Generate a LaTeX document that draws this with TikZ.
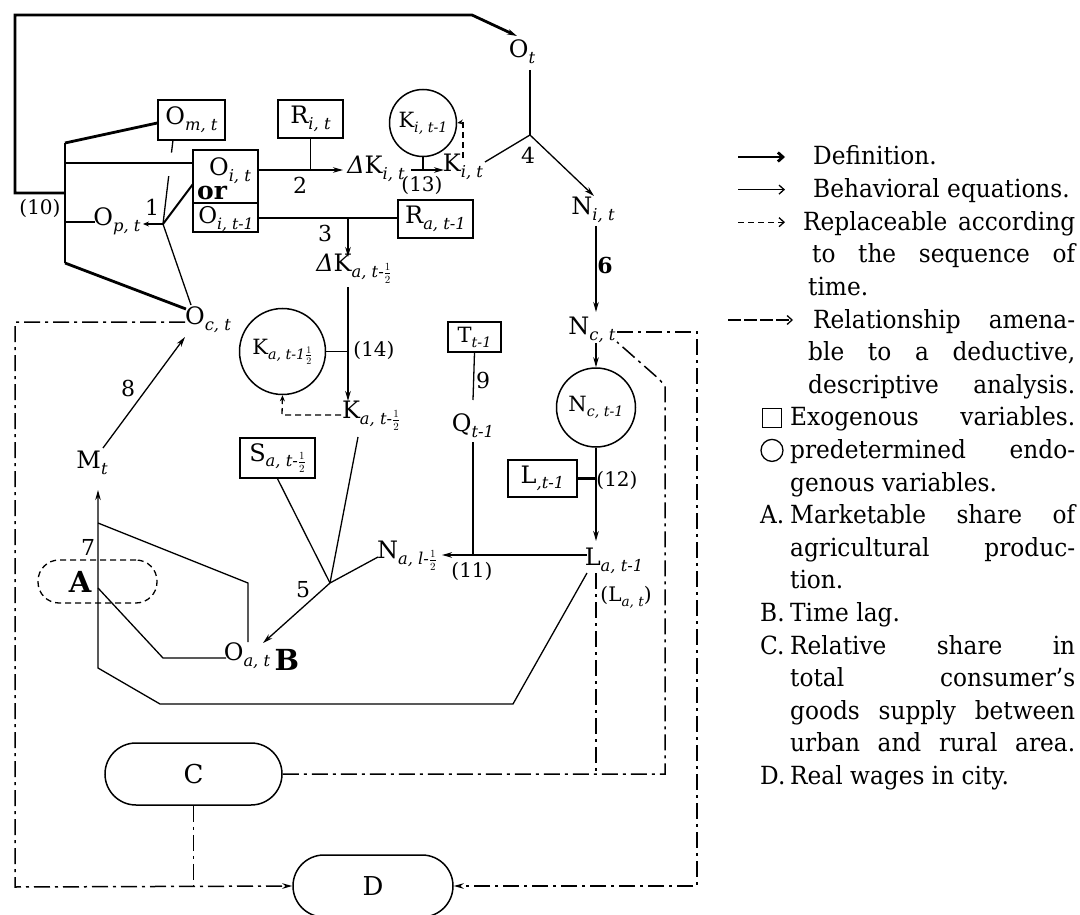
\documentclass[tikz,border=0pt]{standalone}
\usepackage{fontspec}
\setmainfont{DejaVu Serif}
\newfontfamily\legf{DejaVu Serif}[FakeStretch=0.93,Ligatures=TeX]
\usetikzlibrary{arrows.meta,calc}
\makeatletter
\newcommand{\lo}[1]{\raisebox{-0.45ex}{\fontsize{\fpeval{0.68*\f@size}}{\fpeval{0.68*\f@size}}\selectfont\itshape #1}}
\makeatother
\newcommand{\hf}{\ensuremath{\frac{1}{2}}}
\newcommand{\dl}{{\itshape Δ}}
\begin{document}
\begin{tikzpicture}[x=1pt,y=-1pt,
  thk/.style={line width=2.8pt},
  thn/.style={line width=1.3pt},
  mid/.style={line width=2pt},
  arr/.style={-{Stealth[length=10pt,width=5.5pt]}},
  sarr/.style={-{Stealth[length=6pt,width=5pt]}},
  dd/.style={line width=1.5pt,dash pattern=on 16pt off 5pt on 3pt off 5pt},
  dsh/.style={line width=1.3pt,dash pattern=on 6pt off 4pt},
  box/.style={draw,line width=1.5pt,inner sep=0pt,font=\fontsize{24}{24}\selectfont},
  circ/.style={draw,circle,line width=1.5pt,inner sep=0pt,font=\fontsize{21}{21}\selectfont},
  lbl/.style={inner sep=1pt,font=\fontsize{24}{24}\selectfont},
  num/.style={inner sep=1pt,font=\fontsize{22}{22}\selectfont},
  par/.style={inner sep=1pt,font=\fontsize{20}{20}\selectfont},
  big/.style={inner sep=1pt,font=\fontsize{29}{29}\selectfont\bfseries},
  leg/.style={anchor=base west,inner sep=0pt,font=\legf\fontsize{25}{25}\selectfont},
  legarr/.style={-{Straight Barb[length=5pt,width=9pt]}}
]
\useasboundingbox (0,0) rectangle (1080,915);

% ---------- boxes ----------
\node[box,minimum width=67pt,minimum height=40pt] (om) at (191.5,120) {O\lo{m, t}};
\node[box,minimum width=65pt,minimum height=38pt] (ri) at (310.5,119) {R\lo{i, t}};
\node[box,minimum width=65pt,minimum height=82pt] (oi) at (225.5,191) {};
\draw[line width=1.5pt] (oi.west |- 0,203) -- (oi.east |- 0,203);
\node[inner sep=0pt,font=\fontsize{24}{24}\selectfont,anchor=base] (oit) at (230,176) {O\lo{i, t}};
\node[inner sep=0pt,font=\fontsize{25}{25}\selectfont\bfseries,anchor=base] (or) at (212,200) {or};
\node[inner sep=0pt,font=\fontsize{23}{23}\selectfont,anchor=base] (oit1) at (226,224) {O\lo{i, t-1}};
\node[box,minimum width=75pt,minimum height=38pt] (ra) at (435.5,219) {R\lo{a, t-1}};
\node[box,minimum width=53pt,minimum height=30pt,font=\fontsize{21}{21}\selectfont] (tt) at (474.5,337) {T\lo{t-1}};
\node[box,minimum width=75pt,minimum height=40pt] (sa) at (277.5,458) {S\lo{a, t-\hf}};
\node[box,minimum width=69pt,minimum height=37pt] (lb) at (542.5,478.5) {L\lo{,t-1}};

% ---------- circles ----------
\node[circ,minimum size=67pt] (ki) at (423,123) {K\lo{i, t-1}};
\node[circ,minimum size=86pt] (ka) at (282.5,351.5) {K\lo{a, t-1\hf}};
\node[circ,minimum size=79pt] (ncc) at (596,407.5) {N\lo{c, t-1}};

% ---------- rounded ----------
\node[draw,dsh,rounded corners=21pt,minimum width=119pt,minimum height=43pt] (aa) at (97.5,581.5) {};
\node[big] (atx) at (80,582) {A};
\node[draw,line width=1.5pt,rounded corners=31pt,minimum width=177pt,minimum height=62pt,font=\fontsize{26}{26}\selectfont] (cc) at (193.5,774) {C};
\node[draw,line width=1.5pt,rounded corners=31pt,minimum width=160pt,minimum height=62pt,font=\fontsize{26}{26}\selectfont] (dd) at (373,886) {D};

% ---------- text labels ----------
\node[lbl] (ot) at (522,52) {O\lo{t}};
\node[lbl] (dki) at (376,169) {\dl K\lo{i, t}};
\node[par] (n13) at (422,185) {(13)};
\node[lbl] (kit) at (463,167) {K\lo{i, t}};
\node[num] (n4) at (528,155) {4};
\node[lbl] (nit) at (593,210) {N\lo{i, t}};
\node[num,font=\fontsize{22}{22}\selectfont\bfseries] (n6) at (605,265) {6};
\node[lbl] (nct) at (592,330) {N\lo{c, t}};
\node[par] (n12) at (617,480) {(12)};
\node[lbl] (lat) at (614,561) {L\lo{a, t-1}};
\node[par] (lat2) at (626,597) {(L\lo{a, t})};
\node[par] (n11) at (472,571) {(11)};
\node[lbl] (nal) at (407,556) {N\lo{a, l-\hf}};
\node[lbl] (q) at (473,426) {Q\lo{t-1}};
\node[num] (n9) at (483,380) {9};
\node[par] (n14) at (374,350) {(14)};
\node[lbl] (kat) at (371,416) {K\lo{a, t-\hf}};
\node[lbl] (dka) at (354,269) {\dl K\lo{a, t-\hf}};
\node[num] (n3) at (325,233) {3};
\node[num] (n2) at (300,185) {2};
\node[num] (n1) at (152,207) {1};
\node[lbl] (opt) at (117,221) {O\lo{p, t}};
\node[par] (n10) at (40,208) {(10)};
\node[lbl] (oct) at (208,320) {O\lo{c, t}};
\node[lbl] (mt) at (92,463) {M\lo{t}};
\node[num] (n8) at (128,388) {8};
\node[num] (n7) at (88,547) {7};
\node[num] (n5) at (303,590) {5};
\node[lbl] (oat) at (247,656) {O\lo{a, t}};
\node[big] (bb) at (287,660) {B};

% ---------- junctions ----------
\coordinate (b1) at (65,143);
\coordinate (b2) at (65,163);
\coordinate (b3) at (65,193);
\coordinate (b4) at (65,222);
\coordinate (b5) at (65,263);
\coordinate (j1) at (163,224);
\coordinate (j4) at (530,135);
\coordinate (j5) at (330,583);
\coordinate (omb) at (173,140);

% ---------- definition (thick) ----------
\draw[thk,arr] (b3) -- (15,193) -- (15,15) -- (472,15) -- (517,36);
\draw[thk] (b1) -- (b5);
\draw[thk] (b1) -- (om.west |- 0,123);
\draw[thk] (b2) -- (oi.west |- b2);
\draw[thk] (b4) -- (95,222);
\draw[thk] (b5) -- (186,309);
\draw[thk] (ki.south) -- (ki.south |- 0,170);
\draw[thk,arr] (411,170) -- (444,170);
\draw[thk,arr] (348,287) -- (348,401);
\draw[thk,arr] (ncc.south) -- (596,541);
\draw[thk] (lb.east) -- (ncc.south |- lb.east);
\draw[thk] (473,442) -- (473,555);
\draw[thk,arr] (587,555) -- (442,555);

% ---------- behavioural (thin) ----------
\draw[thn] (omb) -- ($(omb)!0.15!(j1)$);
\draw[thn] ($(omb)!0.43!(j1)$) -- (j1);
\draw[thn,sarr] (j1) -- (143,224);
\draw[mid] (j1) -- (193,184);
\draw[thn] (j1) -- (191,305);
\draw[thn,arr] (oi.east |- 0,170) -- (343,170);
\draw[thn] (ri.south) -- (ri.south |- 0,170);
\draw[thn] (oi.east |- 0,218) -- (ra.west |- 0,218);
\draw[thn,arr] (348,218) -- (348,257);
\draw[thn] (485,162) -- (j4);
\draw[thn] (530,70) -- (j4);
\draw[thn,arr] (j4) -- (594,196);
\draw[thn,arr] (596,226) -- (596,312);
\draw[thn,arr] (596,343) -- (ncc.north);
\draw[thn] (tt.south) -- (473,400);
\draw[thn] (ka.east) -- (348,351.5);
\draw[thn] (sa.south) -- (j5);
\draw[thn] (358,437) -- (j5);
\draw[thn] (378,557) -- (j5);
\draw[thn,arr] (j5) -- (263,643);
\draw[thn,arr] (587,573) -- (513,704) -- (160,704) -- (98,668) -- (98,490);
\draw[thn] (248,642) -- (248,583) -- (98,523);
\draw[thn] (98,588) -- (163,658) -- (226,658);
\draw[thn,arr] (103,448) -- (185,337);

% ---------- replaceable (dashed) ----------
\draw[dsh,sarr] (463,158) -- (463,122) -- (ki.east);
\draw[dsh,sarr] (341,415) -- (282,415) -- (ka.south);

% ---------- deductive (dash-dot) ----------
\draw[dd,arr] (185,322) -- (15,322) -- (15,887) -- (dd.west);
\draw[dd] (cc.south) -- (cc.south |- 0,887);
\draw[dd] (cc.east) -- (665,774) -- (665,386) -- (659,379) -- (617,342);
\draw[dd] (596,573) -- (596,774);
\draw[dd,arr] (617,332) -- (697,332) -- (697,886) -- (dd.east);

% ---------- legend ----------
\draw[thk,legarr] (738,157) -- (785,157);
\node[leg] (l1) at (813,165) {Definition.};
\draw[thn,legarr] (738,189.6) -- (785,189.6);
\node[leg] (l2) at (813,197.6) {Behavioral equations.};
\draw[dsh,legarr] (738,222.2) -- (785,222.2);
\node[leg] (l3) at (803,230.2) {\makebox[272pt][s]{Replaceable according}};
\node[leg] (l4) at (812,262.8) {\makebox[263pt][s]{to the sequence of}};
\node[leg] (l5) at (808,295.4) {time.};
\draw[line width=1.3pt,dash pattern=on 13pt off 3pt,legarr] (728,320) -- (793,320);
\node[leg] (l6) at (813,328) {\makebox[262pt][s]{Relationship amena-}};
\node[leg] (l7) at (808,360.6) {\makebox[267pt][s]{ble to a deductive,}};
\node[leg] (l8) at (808,393.2) {\makebox[267pt][s]{descriptive analysis.}};
\node[draw,line width=1.3pt,minimum size=19pt,inner sep=0pt] (sq) at (772,418) {};
\node[leg] (l9) at (790,425.8) {\makebox[285pt][s]{Exogenous variables.}};
\node[draw,circle,line width=1.3pt,minimum size=22pt,inner sep=0pt] (ci) at (772,450.4) {};
\node[leg] (l10) at (790,458.4) {\makebox[285pt][s]{predetermined endo-}};
\node[leg] (l11) at (790,491) {genous variables.};
\node[leg] (la) at (760,523.6) {A.};
\node[leg] (l12) at (790,523.6) {\makebox[285pt][s]{Marketable share of}};
\node[leg] (l13) at (790,556.2) {\makebox[285pt][s]{agricultural produc-}};
\node[leg] (l14) at (790,588.8) {tion.};
\node[leg] (lb2) at (760,621.4) {B.};
\node[leg] (l15) at (790,621.4) {Time lag.};
\node[leg] (lc) at (760,654) {C.};
\node[leg] (l16) at (790,654) {\makebox[285pt][s]{Relative share in}};
\node[leg] (l17) at (790,686.6) {\makebox[285pt][s]{total consumer’s}};
\node[leg] (l18) at (790,719.2) {\makebox[285pt][s]{goods supply between}};
\node[leg] (l19) at (790,751.8) {\makebox[285pt][s]{urban and rural area.}};
\node[leg] (ld) at (760,784.4) {D.};
\node[leg] (l20) at (790,784.4) {Real wages in city.};
\end{tikzpicture}
\end{document}
